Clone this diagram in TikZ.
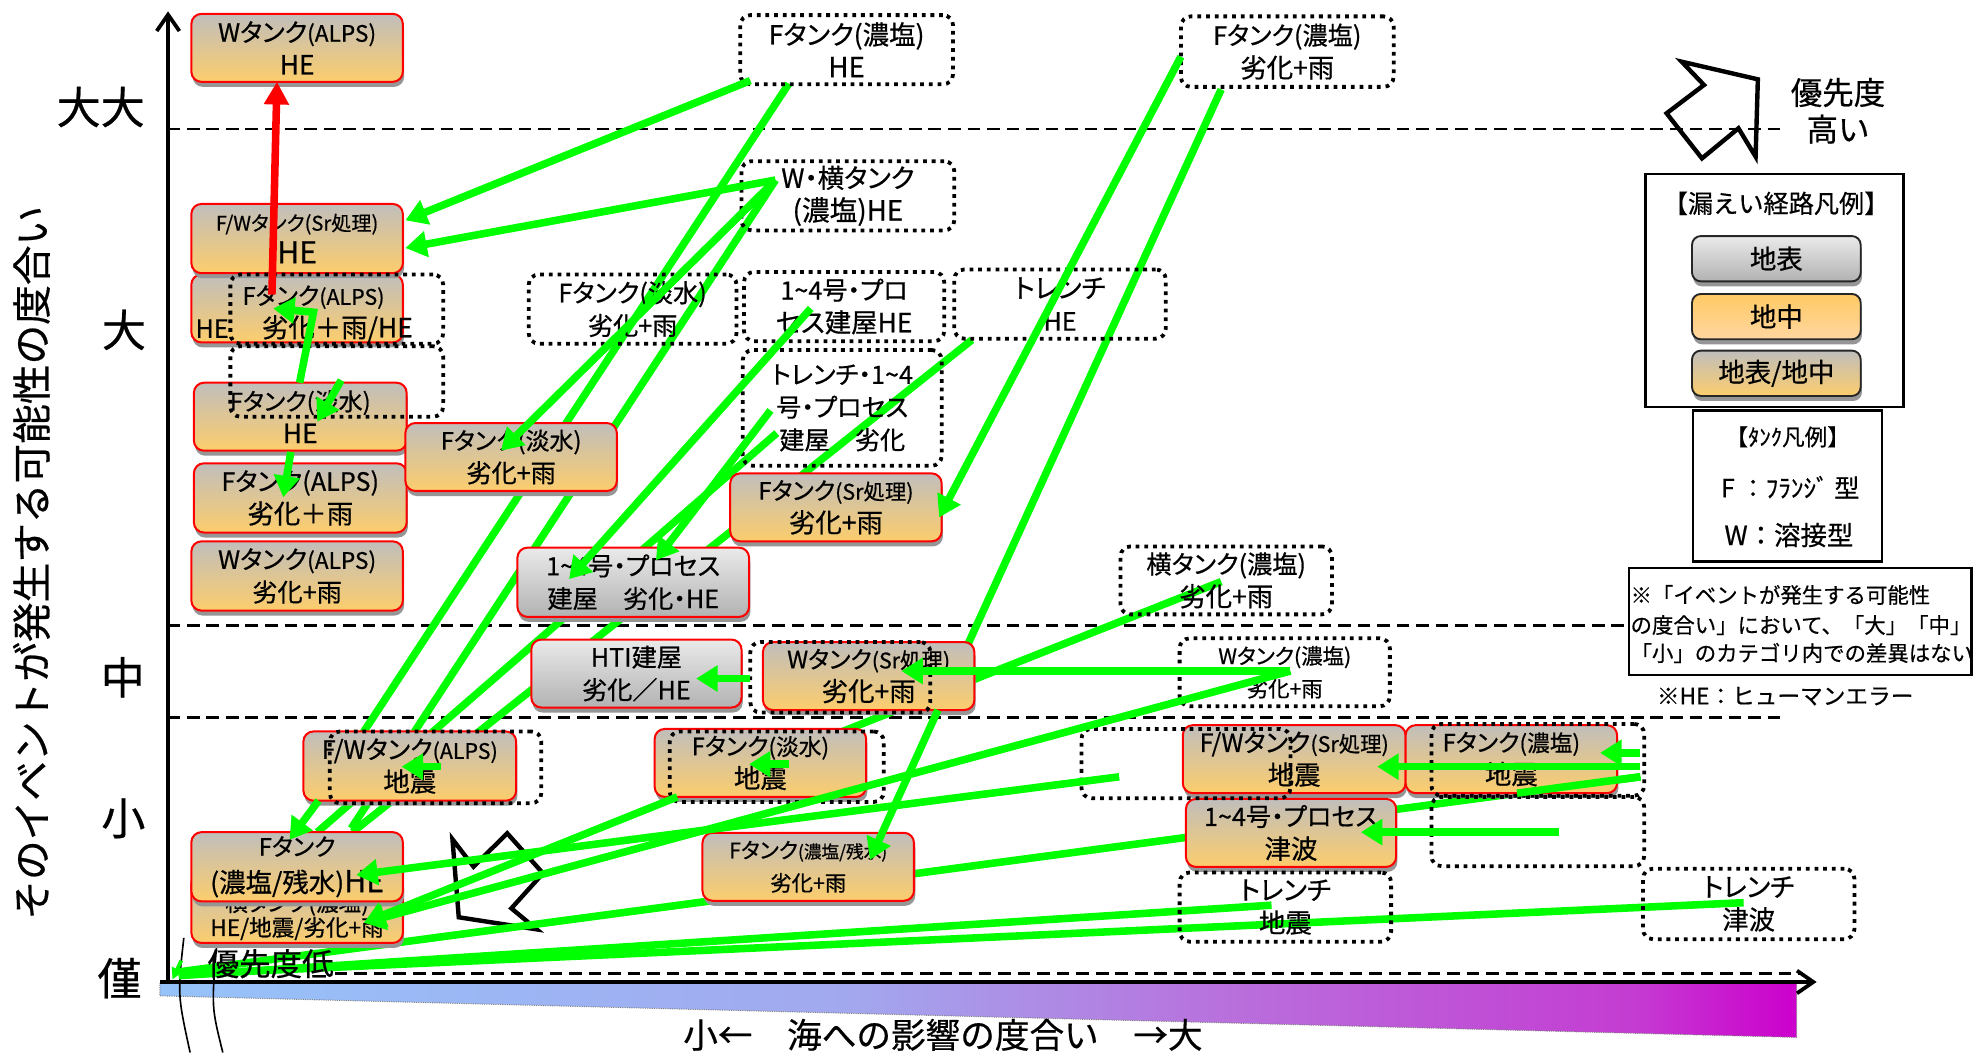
\documentclass[tikz,border=0pt]{standalone}
\usepackage{fontspec}
\setmainfont{Noto Sans CJK JP}[FakeBold=0.5]
\newfontfamily\pf{Noto Sans CJK JP}[RawFeature={+palt}, FakeBold=0.6]
\usetikzlibrary{arrows.meta,shadows}
\definecolor{lgreen}{RGB}{0,255,0}
\definecolor{bgray}{RGB}{192,190,188}
\definecolor{borange}{RGB}{252,205,108}
\definecolor{gtop}{RGB}{234,234,234}
\definecolor{gbot}{RGB}{178,178,178}
\definecolor{shad}{RGB}{150,150,150}
\definecolor{lor1}{RGB}{255,202,100}
\definecolor{lor2}{RGB}{255,214,160}
\definecolor{sg1}{RGB}{150,195,250}
\definecolor{sg2}{RGB}{162,168,238}
\definecolor{sg3}{RGB}{185,110,220}
\definecolor{sg4}{RGB}{196,60,210}
\definecolor{sg5}{RGB}{204,0,204}
\pgfdeclarehorizontalshading{seagrad}{100bp}{color(0bp)=(sg1); color(25bp)=(sg1); color(46bp)=(sg2); color(58bp)=(sg3); color(70bp)=(sg4); color(75bp)=(sg5); color(100bp)=(sg5)}
\newcommand{\fs}[1]{\fontsize{#1}{26}\selectfont}
\tikzset{
  sbox/.style={draw=red, line width=1.6pt, rounded corners=8pt, minimum width=168pt, minimum height=54pt, inner sep=0pt, align=center, font=\pf\fs{18}, top color=bgray, bottom color=borange, drop shadow={shadow xshift=1pt, shadow yshift=-4pt, fill=shad, opacity=1}},
  gbox/.style={sbox, top color=gtop, bottom color=gbot},
  dbox/.style={draw=black, line width=3pt, dash pattern=on 3pt off 3.9pt, rounded corners=8pt, minimum width=168pt, minimum height=55pt, inner sep=0pt, align=center, font=\pf\fs{18}},
  txt/.style={inner sep=0pt, align=center},
  ptxt/.style={inner sep=0pt, align=center, font=\pf\fs{18}},
  gline/.style={draw=lgreen, line width=6pt},
  garr/.style={gline, -{Triangle[length=17pt,width=20pt]}},
  rarr/.style={draw=red, line width=6pt, -{Triangle[length=18pt,width=19pt]}},
  dline/.style={draw=black, line width=2.2pt, dash pattern=on 10pt off 5.5pt},
  axisarr/.style={draw=black, line width=3pt, -{Straight Barb[length=13pt,width=18pt]}},
  barrow/.style={draw=black, fill=white, line width=3.5pt, line join=miter},
  lbtn/.style={draw=black!85, line width=1.5pt, rounded corners=7pt, minimum width=134pt, minimum height=36pt, inner sep=0pt, drop shadow={shadow xshift=1pt, shadow yshift=-4pt, fill=shad, opacity=1}},
  lframe/.style={draw=black, line width=1.8pt, inner sep=0pt},
}
\begin{document}
\begin{tikzpicture}[x=1pt,y=-1pt,font=\fs{18}]
\fill[white] (0,0) rectangle (1568,836.4);
\useasboundingbox (0,0) rectangle (1568,836.4);

% sea-impact gradient bar
\shadedraw[shading=seagrad, draw=black!50, densely dotted, line width=0.8pt] (127,781) -- (1427,781) -- (1427,824) -- (127,791) -- cycle;

% priority block arrows
\draw[barrow] (1396.3,63) -- (1394.5,124.4) -- (1380.9,101.9) -- (1351.9,125.8) -- (1323.8,90) -- (1353.5,67.5) -- (1335.8,49) -- cycle;
\draw[barrow] (364.4,728.6) -- (359.4,666.6) -- (376.1,688.4) -- (402.9,661.9) -- (431.3,693.7) -- (406.2,721.5) -- (426.3,738.2) -- cycle;

% dashed level lines
\draw[dline] (133,102.5) -- (1415,102.5);
\draw[dline] (133,497) -- (1292,497);
\draw[dline] (133,570) -- (1418,570);
\draw[dline] (266,773) -- (1432,773);

% axes
\draw[axisarr] (127,780) -- (1443,780);
\draw[axisarr] (133.5,781.5) -- (133.5,9);
\draw[line width=1.3pt] (146,745) .. controls (141,790) .. (151,836);
\draw[line width=1.3pt] (172,752) .. controls (168,800) .. (177,836);

% axis labels
\node[txt, font=\fs{35}] (tk1) at (80,85) {大大};
\node[txt, font=\fs{35}] (tk2) at (98.5,262) {大};
\node[txt, font=\fs{35}] (tk3) at (97.5,538) {中};
\node[txt, font=\fs{35}] (tk4) at (98,650) {小};
\node[txt, font=\fs{35}] (tk5) at (95,777) {僅};
\node[txt, rotate=90, font=\fs{31.5}] (ytl) at (25,447) {そのイベントが発生する可能性の度合い};
\node[txt, font=\fs{27.5}] (xtl) at (749,822) {小←　海への影響の度合い　→大};
\node[txt, font=\fs{25}] (hp1) at (1460,73.5) {優先度};
\node[txt, font=\fs{25}] (hp2) at (1460,102.6) {高い};

% coordinates for connectors
\path (626.5,66.5) coordinate (b1s) (253,636) coordinate (b1e) (230,667) coordinate (b1t)
      (616,143) coordinate (t3o) (279,658) coordinate (b2e)
      (617,344) coordinate (b3s) (252,661) coordinate (b3e)
      (772,270) coordinate (b4s) (280,661) coordinate (b4e)
      (970,71) coordinate (b5s) (745,564) coordinate (b5e) (691,683) coordinate (b5t)
      (970,462) coordinate (b6s) (538,633) coordinate (b6e) (289,733) coordinate (nN)
      (1303,617) coordinate (b7s) (1205,630) coordinate (b7m) (142,772) coordinate (org1)
      (1010,719) coordinate (b8s) (142,775) coordinate (org2)
      (1385,717) coordinate (b9s) (142,774) coordinate (org3)
      (144,763) coordinate (o1) (137,778) coordinate (o2)
      (596,64) coordinate (a1s) (322,175) coordinate (a1e) (322,197) coordinate (a2e)
      (398,358) coordinate (a3e)
      (644,245) coordinate (a4s) (452,460) coordinate (a4e)
      (612,326) coordinate (a5s) (521,445) coordinate (a5e)
      (938,45) coordinate (a6s) (746,411) coordinate (a6e)
      (1025,533) coordinate (t9o) (716,533) coordinate (a11e)
      (596,539) coordinate (a12s) (553,539) coordinate (a12e)
      (350,609) coordinate (a13s) (319,609) coordinate (a13e)
      (627,607) coordinate (a14s) (595,607) coordinate (a14e)
      (889,617) coordinate (a15s) (283,695) coordinate (a15e)
      (1303,609) coordinate (a16s) (1094,609) coordinate (a16e)
      (1303,598) coordinate (a17s) (1271,598) coordinate (a17e)
      (1238,661) coordinate (a18s) (1081,661) coordinate (a18e)
      (238,304) coordinate (a20s) (249,248) coordinate (a20m) (217,245) coordinate (a20e)
      (271,302) coordinate (a21s) (252,335) coordinate (a21e)
      (231,359) coordinate (a22s) (225,395) coordinate (a22e)
      (216,234) coordinate (rs) (220,65) coordinate (re);

% connectors running behind the boxes
\draw[gline] (b1s) -- (b1e);
\draw[gline] (t3o) -- (b2e);
\draw[gline] (b3s) -- (b3e);
\draw[gline] (b4s) -- (b4e);
\draw[gline] (b5s) -- (b5e);
\draw[gline] (b6s) -- (b6e);
\draw[gline] (b7s) -- (org1);
\draw[gline] (b8s) -- (org2);
\draw[gline] (b9s) -- (org3);
\draw[draw=lgreen, line width=3pt, -{Triangle[length=9pt,width=9pt]}] (o1) -- (o2);
\node[txt, font=\fs{25}] (lowp) at (215,765.5) {優先度低};

% solid boxes
\node[sbox] (C) at (236,245) {};
\node[ptxt] (Ct1) at (249,236) {\fs{19}Fタンク\fs{17}(ALPS)};
\node[ptxt] (Ct2) at (268,261) {\fs{21}劣化＋雨/HE};
\node[ptxt] (Ct3) at (168.5,261) {\fs{20}HE};
\node[sbox, minimum height=55pt] (B) at (236,189.5) {\fs{16}F/Wタンク(Sr処理)\\\fs{24}HE};
\node[sbox] (A) at (236,38) {\fs{20}Wタンク\fs{18}(ALPS)\\\fs{21}HE};
\node[sbox, minimum width=169pt] (D) at (238.5,331) {\fs{19}Fタンク(淡水)\\\fs{21}HE};
\node[sbox, minimum width=169pt, minimum height=55pt] (E) at (238.5,395.5) {\fs{20}Fタンク(ALPS)\\\fs{21}劣化＋雨};
\node[sbox, minimum height=55pt] (F) at (236,457.5) {\fs{20}Wタンク\fs{18}(ALPS)\\\fs{20}劣化+雨};
\node[sbox] (G) at (406,363) {\fs{19}Fタンク(淡水)\\\fs{20}劣化+雨};
\node[gbox, minimum width=184pt, minimum height=55pt] (H) at (503,462.5) {\fs{20}1\textasciitilde4号・プロセス\\\fs{20}建屋　劣化・HE};
\node[gbox, minimum width=167pt] (I) at (505.5,535) {\fs{20}HTI建屋\\\fs{20}劣化／HE};
\node[sbox] (J) at (664,403) {\fs{19}Fタンク\fs{17}(Sr処理)\\\fs{21}劣化+雨};
\node[sbox] (K) at (690,537) {\fs{19}Wタンク\fs{17}(Sr処理)\\\fs{21}劣化+雨};
\node[sbox, minimum width=169pt, minimum height=55pt] (L) at (325.5,608.5) {\fs{20}F/Wタンク\fs{17}(ALPS)\\\fs{21}地震};
\node[sbox, minimum height=55pt] (N) at (236,721.5) {};
\node[ptxt] (Nt1) at (236,718) {\fs{18}横タンク(濃塩)};
\node[ptxt] (Nt2) at (236,737.5) {\fs{18}HE/地震/劣化+雨};
\node[sbox, minimum height=55pt] (M) at (236,688.5) {\fs{19}Fタンク\\[3pt]\fs{21}(濃塩/残水)\fs{24}HE};
\node[sbox] (O) at (604,606) {\fs{19}Fタンク\fs{18}(淡水)\\\fs{21}地震};
\node[sbox] (P) at (642,688.5) {\fontsize{17}{22}\selectfont Fタンク\fontsize{14}{22}\selectfont(濃塩/残水)\\\fontsize{17}{22}\selectfont 劣化+雨};
\node[sbox, minimum width=177pt] (Q) at (1028,603) {\fs{20}F/Wタンク\fs{17}(Sr処理)\\\fs{21}地震};
\node[sbox] (R) at (1200.5,603) {\fs{19}Fタンク\fs{18}(濃塩)\\\fs{21}地震};
\node[sbox, minimum width=167pt] (S) at (1025.5,661.6) {\fs{20}1\textasciitilde4号・プロセス\\\fs{21}津波};

% dotted boxes
\node[dbox, minimum width=169pt] (T1) at (672.5,39.5) {\fs{21}Fタンク(濃塩)\\\fs{22}HE};
\node[dbox, minimum width=169pt, minimum height=56pt] (T2) at (1022.5,41) {\fs{20}Fタンク(濃塩)\\\fs{21}劣化+雨};
\node[dbox, minimum width=169pt] (T3) at (673.5,155.5) {\fs{21}W・横タンク\\\fs{22}(濃塩)HE};
\node[dbox, minimum width=165pt] (T4) at (502.5,245.5) {\fs{20}Fタンク(淡水)\\\fs{20}劣化+雨};
\node[dbox, minimum width=159pt] (T5) at (670.5,243.5) {\fs{20}1\textasciitilde4号・プロ\\\fs{21}セス建屋HE};
\node[dbox] (T6) at (842,241.5) {\fs{21}トレンチ\\\fs{20}HE};
\node[dbox, minimum width=158pt, minimum height=92pt] (T7) at (669,324) {\fontsize{20}{28}\selectfont トレンチ・1\textasciitilde4\\\fontsize{20}{28}\selectfont 号・プロセス\\\fontsize{20}{28}\selectfont 建屋　劣化};
\node[dbox, minimum height=54pt] (T8) at (974,461) {\fs{20}横タンク(濃塩)\\\fs{21}劣化+雨};
\node[dbox, minimum width=167pt, minimum height=54pt] (T9) at (1020.5,534) {\fontsize{17}{22}\selectfont Wタンク(濃塩)\\\fontsize{17}{22}\selectfont 劣化+雨};
\node[dbox] (T10) at (1021,720.5) {\fs{21}トレンチ\\\fs{21}地震};
\node[dbox, minimum height=56pt] (T11) at (1389,718) {\fs{21}トレンチ\\\fs{21}津波};
\node[dbox, minimum width=169pt] (DC) at (267.5,245.5) {};
\node[dbox, minimum width=169pt, minimum height=56pt] (DD) at (267.5,303) {};
\node[dbox, minimum width=143pt, minimum height=56pt] (DK) at (667.5,538) {};
\node[dbox, minimum height=57pt] (DL) at (346,609.5) {};
\node[dbox, minimum width=170pt, minimum height=56pt] (DO) at (617,609) {};
\node[dbox, minimum width=166pt] (DQ) at (942,606.5) {};
\node[dbox, minimum width=169pt, minimum height=57pt] (DR) at (1221.5,603.5) {};
\node[dbox, minimum width=169pt] (DR2) at (1221.5,660.5) {};

% legends
\node[lframe, minimum width=205pt, minimum height=185pt] (leg1) at (1409.5,230.5) {};
\node[txt] (leg1t) at (1410.8,161.5) {\fs{20}【漏えい経路凡例】};
\node[lbtn, top color=gtop, bottom color=gbot] (lg1) at (1411,205.5) {\fs{21}地表};
\node[lbtn, top color=lor1, bottom color=lor2] (lg2) at (1411,251.5) {\fs{21}地中};
\node[lbtn, top color=bgray, bottom color=borange] (lg3) at (1411,296.5) {\fs{21}地表/地中};
\node[lframe, minimum width=150pt, minimum height=120pt] (leg2) at (1420,386) {};
\node[txt] (leg2a) at (1420,347) {\fs{18}【ﾀﾝｸ凡例】};
\node[txt] (leg2b) at (1422,387) {\fs{20}F ：ﾌﾗﾝｼﾞ 型};
\node[txt] (leg2c) at (1421,425) {\fs{21}W：溶接型};
\node[lframe, minimum width=272pt, minimum height=85pt] (note) at (1430,493.5) {};
\node[txt, anchor=west] (n1) at (1295,472.6) {\fs{17}※「イベントが発生する可能性};
\node[txt, anchor=west] (n2) at (1295,496.5) {\fs{17}の度合い」において、「大」「中」};
\node[txt, anchor=west] (n3) at (1295,518.7) {\fs{17}「小」のカテゴリ内での差異はない};
\node[txt] (heno) at (1418,553) {\fs{18}※HE：ヒューマンエラー};

% connectors drawn over the boxes
\draw[garr] (a1s) -- (a1e);
\draw[garr] (t3o) -- (a2e);
\draw[garr] (t3o) -- (a3e);
\draw[garr] (a4s) -- (a4e);
\draw[garr] (a5s) -- (a5e);
\draw[garr] (a6s) -- (a6e);
\draw[garr] (b5e) -- (b5t);
\draw[garr] (b1e) -- (b1t);
\draw[garr] (b6e) -- (nN);
\draw[garr] (t9o) -- (nN);
\draw[garr] (t9o) -- (a11e);
\draw[garr] (a12s) -- (a12e);
\draw[garr] (a13s) -- (a13e);
\draw[garr] (a14s) -- (a14e);
\draw[garr] (a15s) -- (a15e);
\draw[garr] (a16s) -- (a16e);
\draw[garr] (a17s) -- (a17e);
\draw[garr] (a18s) -- (a18e);
\draw[gline] (b7s) -- (b7m);
\draw[garr] (a20s) -- (a20m) -- (a20e);
\draw[garr] (a21s) -- (a21e);
\draw[garr] (a22s) -- (a22e);
\draw[rarr] (rs) -- (re);
\end{tikzpicture}
\end{document}
